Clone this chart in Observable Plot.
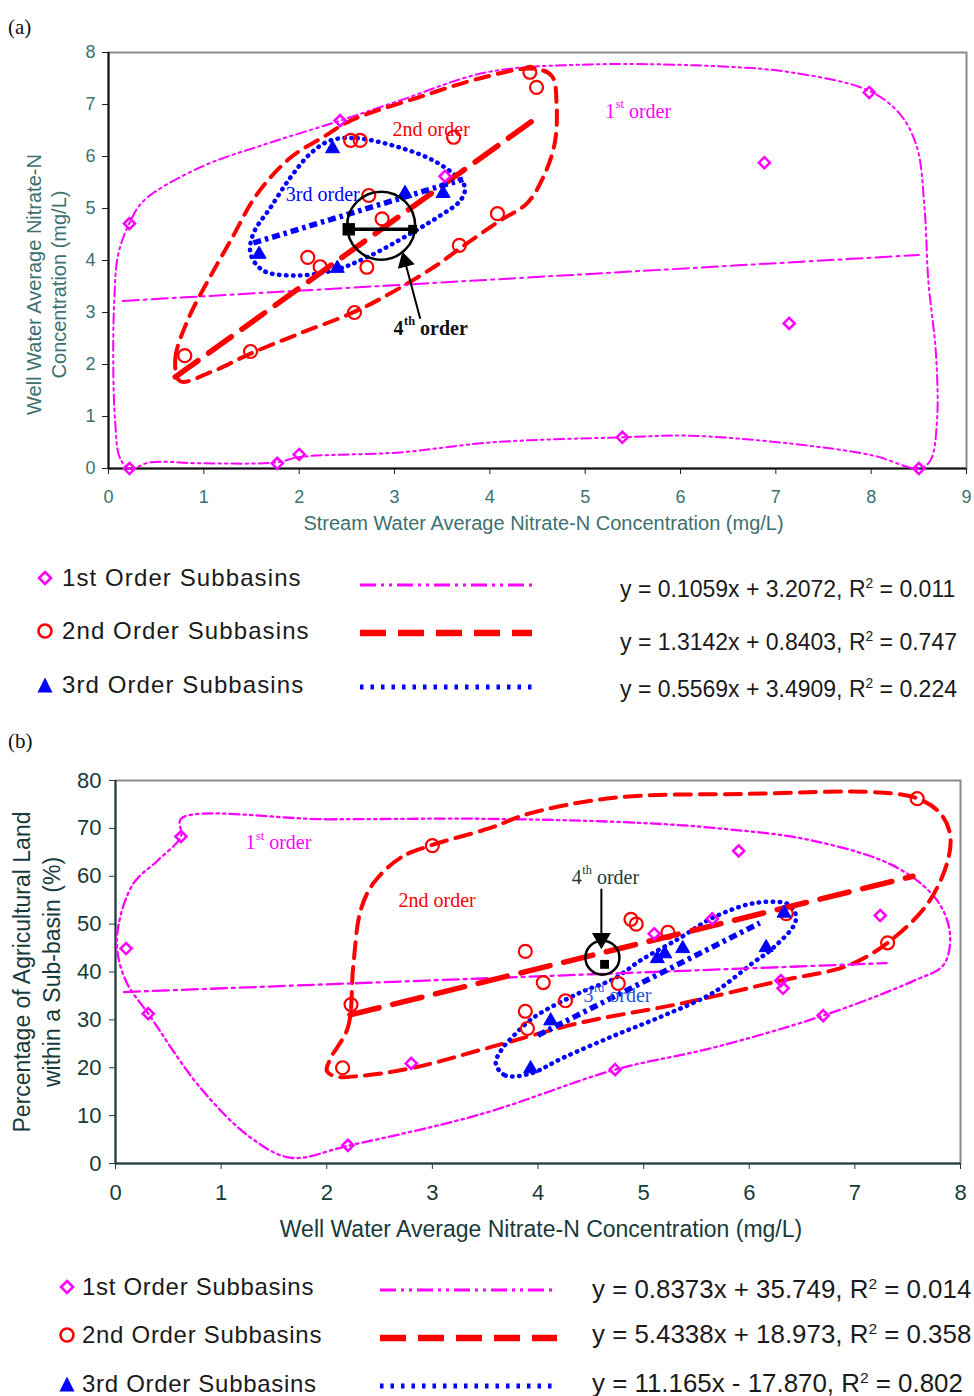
<!DOCTYPE html>
<html><head><meta charset="utf-8">
<script src="https://cdn.jsdelivr.net/npm/d3@7"></script>
<script src="https://cdn.jsdelivr.net/npm/@observablehq/plot@0.6"></script>
<style>
body{margin:0;background:#fff;}
#root{position:relative;width:974px;height:1396px;overflow:hidden;font-family:"Liberation Sans",Arial,sans-serif;background:#fff;}
#root svg{display:block;}
</style></head><body><div id="root"></div>
<script>
// ================= DATA =================
// Panel (a): x = stream water average nitrate-N (mg/L), y = well water average nitrate-N (mg/L)
const aXTicks = [0,1,2,3,4,5,6,7,8,9];
const aYTicks = [0,1,2,3,4,5,6,7,8];
const a1x = [0.22, 2.43, 3.53, 6.88, 7.98, 7.14, 5.39, 8.50, 0.22, 1.77, 2.00];
const a1y = [4.71, 6.69, 5.62, 5.88, 7.23, 2.79, 0.60, 0.00, 0.00, 0.10, 0.27];
const a2x = [0.80, 1.49, 2.58, 3.68, 4.08, 4.42, 4.49, 3.62, 2.73, 2.87, 2.09, 2.22, 2.71, 2.54, 2.64];
const a2y = [2.17, 2.25, 3.00, 4.29, 4.90, 7.62, 7.33, 6.37, 5.25, 4.80, 4.06, 3.88, 3.87, 6.31, 6.31];
const a3x = [2.35, 1.58, 2.40, 3.11, 3.51];
const a3y = [6.15, 4.12, 3.85, 5.29, 5.29];
const aFitSlope = [0.1059, 1.3142, 0.5569];
const aFitIntercept = [3.2072, 0.8403, 3.4909];
const aFitFrom = [0.15, 0.70, 1.52];
const aFitTo = [8.50, 4.47, 3.72];
const aHull1 = [[0.22,0.0],[0.12,0.2],[0.07,0.9],[0.05,2.0],[0.06,3.2],[0.1,4.1],[0.22,4.72],[0.37,5.15],[0.96,5.79],[1.67,6.25],[2.43,6.69],[3.06,7.08],[3.97,7.62],[5.05,7.77],[6.45,7.73],[7.15,7.62],[7.97,7.27],[8.3,6.82],[8.48,6.18],[8.56,5.0],[8.6,3.6],[8.68,2.2],[8.69,0.9],[8.62,0.15],[8.5,0.0],[8.02,0.25],[7.15,0.48],[6.1,0.63],[5.39,0.6],[4.0,0.5],[3.06,0.31],[2.0,0.22],[1.77,0.12],[0.96,0.1],[0.44,0.12]];
const aHull2 = [[0.75,1.68],[0.7,2.1],[0.83,2.85],[1.04,3.6],[1.28,4.38],[1.56,5.28],[1.91,5.98],[2.25,6.37],[2.54,6.69],[3.24,7.13],[3.93,7.52],[4.45,7.69],[4.65,7.55],[4.7,7.0],[4.68,6.25],[4.56,5.6],[4.39,5.1],[4.11,4.77],[3.76,4.33],[3.41,3.87],[2.88,3.29],[2.54,2.98],[2.01,2.6],[1.49,2.21],[1.07,1.85]];
const aHull3 = [[2.33,6.31],[2.61,6.35],[3.06,6.17],[3.41,5.92],[3.66,5.6],[3.74,5.4],[3.69,5.15],[3.51,4.9],[3.17,4.52],[2.71,4.06],[2.36,3.81],[1.94,3.71],[1.62,3.81],[1.49,4.13],[1.52,4.52],[1.7,5.02],[1.91,5.6],[2.12,6.06]];
const a4th = {x: 2.86, y: 4.67, yBar: 4.60, xLo: 2.52, xHi: 3.19};
const aArrow = {x1: 3.27, y1: 2.88, x2: 3.11, y2: 3.98};
const aNotes = [
  {x: 5.21, y: 6.87, base: "1", sup: "st", rest: "order", color: "#ff00ff"},
  {x: 2.98, y: 6.52, base: "2nd order", color: "#ff0000"},
  {x: 1.86, y: 5.27, base: "3rd order", color: "#0000ff"},
  {x: 2.99, y: 2.69, base: "4", sup: "th", rest: "order", color: "#111111", bold: true}
];
const aEquations = ["y = 0.1059x + 3.2072, R<sup>2</sup> = 0.011", "y = 1.3142x + 0.8403, R<sup>2</sup> = 0.747", "y = 0.5569x + 3.4909, R<sup>2</sup> = 0.224"];

// Panel (b): x = well water average nitrate-N (mg/L), y = % agricultural land in sub-basin
const bXTicks = [0,1,2,3,4,5,6,7,8];
const bYTicks = [0,10,20,30,40,50,60,70,80];
const b1x = [0.10, 0.31, 0.62, 2.20, 2.80, 4.73, 5.90, 5.65, 5.10, 6.30, 6.32, 6.70, 7.24];
const b1y = [44.9, 31.3, 68.3, 3.8, 20.9, 19.6, 65.3, 51.1, 48.0, 38.2, 36.6, 30.9, 51.8];
const b2x = [2.15, 2.23, 3.00, 3.88, 3.88, 3.90, 4.05, 4.26, 4.76, 4.88, 4.93, 5.23, 6.35, 7.31, 7.59];
const b2y = [20.0, 33.2, 66.4, 44.3, 31.8, 28.2, 37.8, 34.0, 37.6, 51.0, 50.0, 48.3, 52.2, 46.1, 76.2];
const b3x = [3.93, 4.12, 5.13, 5.20, 5.37, 6.16, 6.33];
const b3y = [19.8, 29.8, 42.8, 43.8, 44.9, 45.1, 52.3];
const bFitSlope = [0.8373, 5.4338, 11.165];
const bFitIntercept = [35.749, 18.973, -17.870];
const bFitFrom = [0.08, 2.22, 4.00];
const bFitTo = [7.30, 7.55, 6.10];
const bHull1 = [[0.62,72.0],[2.0,71.9],[3.46,72.0],[4.8,71.3],[5.66,70.1],[6.61,67.4],[7.4,61.8],[7.78,54.9],[7.9,48.0],[7.84,41.5],[7.56,38.2],[6.7,30.9],[5.66,24.2],[4.73,19.6],[3.46,10.3],[2.2,3.7],[1.66,1.2],[1.28,5.4],[0.8,15.9],[0.31,31.3],[0.11,37.6],[0.02,44],[0.03,50],[0.17,58.5],[0.4,63.3],[0.62,68.3]];
const bHull2 = [[2.98,66.4],[2.7,63.9],[2.44,58.5],[2.32,52.8],[2.25,41],[2.2,28.4],[2.04,22.1],[2.0,19.4],[2.08,18.2],[2.32,18.3],[2.82,20.0],[3.55,24.3],[4.4,29.4],[5.35,33.4],[6.3,38.2],[6.93,41.3],[7.31,46.1],[7.69,54.3],[7.88,63.3],[7.9,68.9],[7.81,73.1],[7.6,76.2],[7.24,77.5],[5.98,77.2],[4.72,76.4],[3.9,73],[3.55,70.1]];
const bHull3 = [[3.6,20.9],[3.69,18.4],[3.93,18.8],[4.24,22.1],[4.72,26.7],[5.19,30.9],[5.66,35.7],[6.04,42.0],[6.23,45.1],[6.44,50.7],[6.39,53.9],[6.08,54.5],[5.66,51.4],[5.35,47.2],[4.97,42.4],[4.72,38.6],[4.4,35.7],[3.96,30.5],[3.77,26.7],[3.65,23.6]];
const b4th = {x: 4.61, y: 43.0, xSq: 4.63, ySq: 41.6};
const bArrow = {x1: 4.60, y1: 57.4, x2: 4.60, y2: 47.0};
const bNotes = [
  {x: 1.23, y: 67.0, base: "1", sup: "st", rest: "order", color: "#ff00ff"},
  {x: 2.68, y: 54.9, base: "2nd order", color: "#ff0000"},
  {x: 4.32, y: 59.7, base: "4", sup: "th", rest: "order", color: "#163c3c"},
  {x: 4.43, y: 35.1, base: "3", sup: "rd", rest: "order", color: "#2255dd"}
];
const bEquations = ["y = 0.8373x + 35.749, R<sup>2</sup> = 0.014", "y = 5.4338x + 18.973, R<sup>2</sup> = 0.358", "y = 11.165x - 17.870, R<sup>2</sup> = 0.802"];

const legendLabels = ["1st Order Subbasins", "2nd Order Subbasins", "3rd Order Subbasins"];

// ================= HELPERS =================
const serif = '"Liberation Serif", "Times New Roman", serif';
const sans = '"Liberation Sans", Arial, sans-serif';
const MAG = "#ff00ff", RED = "#ff0000", BLUE = "#0000ff";
const pts = (xs, ys) => xs.map((x, i) => ({x, y: ys[i]}));
const fit = (s, b, x0, x1) => [{x: x0, y: s * x0 + b}, {x: x1, y: s * x1 + b}];
const ctx = document.createElement("canvas").getContext("2d");
const tw = (t, size, w) => { ctx.font = `${w || "normal"} ${size}px "Liberation Serif"`; return ctx.measureText(t).width; };

function noteMarks(notes, size) {
  const marks = [];
  for (const n of notes) {
    const w = n.bold ? "bold" : "normal";
    const c = {x: "x", y: "y", textAnchor: "start", fill: n.color, fontFamily: serif, fontWeight: w};
    marks.push(Plot.text([n], {...c, text: "base", fontSize: size}));
    if (n.sup) {
      const bw = tw(n.base, size, w);
      const ss = size * 0.62;
      marks.push(Plot.text([n], {...c, text: "sup", fontSize: ss, dx: bw + 0.5, dy: -size * 0.36}));
      marks.push(Plot.text([n], {...c, text: "rest", fontSize: size, dx: bw + tw(n.sup, ss, w) + tw(" ", size, w) + 0.5}));
    }
  }
  return marks;
}

function groupMarks(hulls, fits, groups, st) {
  const m = [];
  const hullStyle = [
    {stroke: MAG, strokeWidth: st.magW, strokeDasharray: "10,4,2.5,4,2.5,4"},
    {stroke: RED, strokeWidth: 4, strokeDasharray: st.redHullDash},
    {stroke: BLUE, strokeWidth: 4.5, strokeDasharray: "0.5,6.5", strokeLinecap: "round"}
  ];
  const fitStyle = [
    {stroke: MAG, strokeWidth: st.magW, strokeDasharray: "16,5,3,5"},
    {stroke: RED, strokeWidth: 5.5, strokeDasharray: st.redFitDash},
    {stroke: BLUE, strokeWidth: 5.5, strokeDasharray: "8,4,3.5,4", strokeLinecap: "butt"}
  ];
  hulls.forEach((h, i) => m.push(Plot.line(h, {x: d => d[0], y: d => d[1], curve: "catmull-rom-closed", ...hullStyle[i]})));
  fits.forEach((f, i) => m.push(Plot.line(f, {x: "x", y: "y", ...fitStyle[i]})));
  m.push(Plot.dot(groups[0], {x: "x", y: "y", symbol: "diamond2", r: 5, stroke: MAG, strokeWidth: 2.5, fill: "none"}));
  m.push(Plot.dot(groups[1], {x: "x", y: "y", symbol: "circle", r: 6.5, stroke: RED, strokeWidth: 2.2, fill: "none"}));
  m.push(Plot.dot(groups[2], {x: "x", y: "y", symbol: "triangle", r: 5.2, fill: BLUE, stroke: BLUE, strokeWidth: 1}));
  return m;
}

const root = document.getElementById("root");
function addAbs(el, left, top) { el.style.position = "absolute"; el.style.left = left + "px"; el.style.top = top + "px"; root.appendChild(el); }
function addDiv(html, left, cy, style) {
  const d = document.createElement("div");
  d.innerHTML = html;
  d.style.cssText = `position:absolute;left:${left}px;top:${cy}px;transform:translateY(-50%);white-space:nowrap;line-height:1;${style}`;
  root.appendChild(d);
}

// ================= PANEL (a) =================
const axisColA = "#3d7070";
const plotA = Plot.plot({
  width: 974, height: 540,
  marginLeft: 108, marginRight: 8, marginTop: 52, marginBottom: 72,
  x: {domain: [0, 9]}, y: {domain: [0, 8]},
  style: {fontFamily: sans, background: "transparent", overflow: "visible"},
  marks: [
    Plot.frame({stroke: "#8a8a8a", strokeWidth: 2}),
    Plot.axisX({ticks: aXTicks, tickFormat: d => d, tickSize: 6, tickPadding: 16, fontSize: 18, stroke: "#222", fill: axisColA, label: null}),
    Plot.axisY({ticks: aYTicks, tickFormat: d => d, tickSize: 6, tickPadding: 7, fontSize: 18, stroke: "#222", fill: axisColA, label: null}),
    Plot.ruleX([0], {stroke: "#111", strokeWidth: 2}),
    Plot.ruleY([0], {stroke: "#111", strokeWidth: 2}),
    Plot.text(["Stream Water Average Nitrate-N Concentration (mg/L)"], {text: d => d, frameAnchor: "bottom", dx: 6, dy: 55, lineAnchor: "middle", textAnchor: "middle", fontSize: 20, fill: axisColA}),
    Plot.text(["Well Water Average Nitrate-N\nConcentration (mg/L)"], {text: d => d, frameAnchor: "left", rotate: -90, dx: -63, dy: 24, lineAnchor: "middle", textAnchor: "middle", lineHeight: 1.25, fontSize: 20, fill: axisColA}),
    ...groupMarks([aHull1, aHull2, aHull3],
      [0, 1, 2].map(i => fit(aFitSlope[i], aFitIntercept[i], aFitFrom[i], aFitTo[i])),
      [pts(a1x, a1y), pts(a2x, a2y), pts(a3x, a3y)],
      {magW: 2, redHullDash: "14,9", redFitDash: "28,13"}),
    // 4th order
    Plot.dot([a4th], {x: "x", y: "y", r: 34, stroke: "#000", strokeWidth: 2.5, fill: "none"}),
    Plot.link([a4th], {x1: "xLo", x2: "xHi", y1: "yBar", y2: "yBar", stroke: "#000", strokeWidth: 3.5}),
    Plot.dot([a4th], {x: "xLo", y: "yBar", symbol: "square", r: 7, fill: "#000"}),
    Plot.dot([a4th], {x: "xHi", y: "yBar", symbol: "square", r: 5, fill: "#000"}),
    Plot.link([aArrow], {x1: "x1", y1: "y1", x2: "x2", y2: "y2", stroke: "#000", strokeWidth: 2}),
    Plot.dot([aArrow], {x: "x2", y: "y2", symbol: "triangle", r: 6.5, rotate: -15, fill: "#000"}),
    ...noteMarks(aNotes, 20)
  ]
});
addAbs(plotA, 0, 0);

// ================= PANEL (b) =================
const axisColB = "#173a3a";
const plotB = Plot.plot({
  width: 974, height: 518,
  marginLeft: 115, marginRight: 14, marginTop: 60, marginBottom: 75,
  x: {domain: [0, 8]}, y: {domain: [0, 80]},
  style: {fontFamily: sans, background: "transparent", overflow: "visible"},
  marks: [
    Plot.frame({stroke: "#8a8a8a", strokeWidth: 2}),
    Plot.axisX({ticks: bXTicks, tickFormat: d => d, tickSize: 6, tickPadding: 15, fontSize: 22, stroke: "#1c3c3c", fill: axisColB, label: null}),
    Plot.axisY({ticks: bYTicks, tickFormat: d => d, tickSize: 6, tickPadding: 8, fontSize: 22, stroke: "#1c3c3c", fill: axisColB, label: null}),
    Plot.ruleX([0], {stroke: "#1c3c3c", strokeWidth: 2}),
    Plot.ruleY([0], {stroke: "#1c3c3c", strokeWidth: 2}),
    Plot.text(["Well Water Average Nitrate-N Concentration (mg/L)"], {text: d => d, frameAnchor: "bottom", dx: 3, dy: 66, lineAnchor: "middle", textAnchor: "middle", fontSize: 23, fill: axisColB}),
    Plot.text(["Percentage of Agricultural Land\nwithin a Sub-basin (%)"], {text: d => d, frameAnchor: "left", rotate: -90, dx: -80, dy: 0, lineAnchor: "middle", textAnchor: "middle", lineHeight: 1.3, fontSize: 23, fill: axisColB}),
    ...groupMarks([bHull1, bHull2, bHull3],
      [0, 1, 2].map(i => fit(bFitSlope[i], bFitIntercept[i], bFitFrom[i], bFitTo[i])),
      [pts(b1x, b1y), pts(b2x, b2y), pts(b3x, b3y)],
      {magW: 2.3, redHullDash: "16,9", redFitDash: "30,14"}),
    Plot.dot([b4th], {x: "x", y: "y", r: 17, stroke: "#000", strokeWidth: 2.5, fill: "none"}),
    Plot.dot([b4th], {x: "xSq", y: "ySq", symbol: "square", r: 5, fill: "#000"}),
    Plot.link([bArrow], {x1: "x1", y1: "y1", x2: "x2", y2: "y2", stroke: "#000", strokeWidth: 2}),
    Plot.dot([bArrow], {x: "x2", y: "y2", symbol: "triangle", r: 7, rotate: 180, fill: "#000"}),
    ...noteMarks(bNotes, 20)
  ]
});
addAbs(plotB, 0, 720);

// ================= PANEL LABELS =================
addDiv("(a)", 8, 27, `font-family:${serif};font-size:21px;color:#111;`);
addDiv("(b)", 8, 741, `font-family:${serif};font-size:21px;color:#111;`);

// ================= LEGENDS =================
function markerSvg(k) {
  if (k === 0) return `<svg width="16" height="16"><path d="M8,2 L14,8 L8,14 L2,8Z" fill="none" stroke="${MAG}" stroke-width="2.6"/></svg>`;
  if (k === 1) return `<svg width="18" height="18"><circle cx="9" cy="9" r="6.5" fill="none" stroke="${RED}" stroke-width="2.6"/></svg>`;
  return `<svg width="18" height="18"><path d="M9,1.5 L16.5,16.5 L1.5,16.5Z" fill="${BLUE}"/></svg>`;
}
function lineSvg(k, w) {
  const st = [
    `stroke="${MAG}" stroke-width="3" stroke-dasharray="16,5,3,5,3,5"`,
    `stroke="${RED}" stroke-width="6.5" stroke-dasharray="26,12"`,
    `stroke="${BLUE}" stroke-width="5" stroke-dasharray="3.5,7"`
  ][k];
  return `<svg width="${w}" height="14"><line x1="0" y1="7" x2="${w}" y2="7" ${st}/></svg>`;
}
const legA = {mx: 45, lx: 62, rows: [578, 631, 685], sx: 360, sw: 172, srows: [585, 633, 687], ex: 620, erows: [589, 642, 689], lfs: 24, lls: 1.1, efs: 23};
const legB = {mx: 67, lx: 82, rows: [1287, 1335, 1384], sx: 380, sw: 177, srows: [1290, 1338, 1386], ex: 592, erows: [1290, 1335, 1384], lfs: 24, lls: 0.7, efs: 25.9};
function drawLegend(L, eqs) {
  for (let k = 0; k < 3; k++) {
    const sz = k === 0 ? 16 : 18;
    addDiv(markerSvg(k), L.mx - sz / 2, L.rows[k], "");
    addDiv(legendLabels[k], L.lx, L.rows[k], `font-family:${sans};font-size:${L.lfs}px;letter-spacing:${L.lls}px;color:#1a1a1a;`);
    addDiv(lineSvg(k, L.sw), L.sx, L.srows[k], "");
    addDiv(eqs[k], L.ex, L.erows[k], `font-family:${sans};font-size:${L.efs}px;color:#1a1a1a;`);
  }
}
drawLegend(legA, aEquations);
drawLegend(legB, bEquations);
document.querySelectorAll("#root sup").forEach(s => { s.style.fontSize = "0.6em"; s.style.verticalAlign = "0.6em"; s.style.lineHeight = "0"; });
</script></body></html>
